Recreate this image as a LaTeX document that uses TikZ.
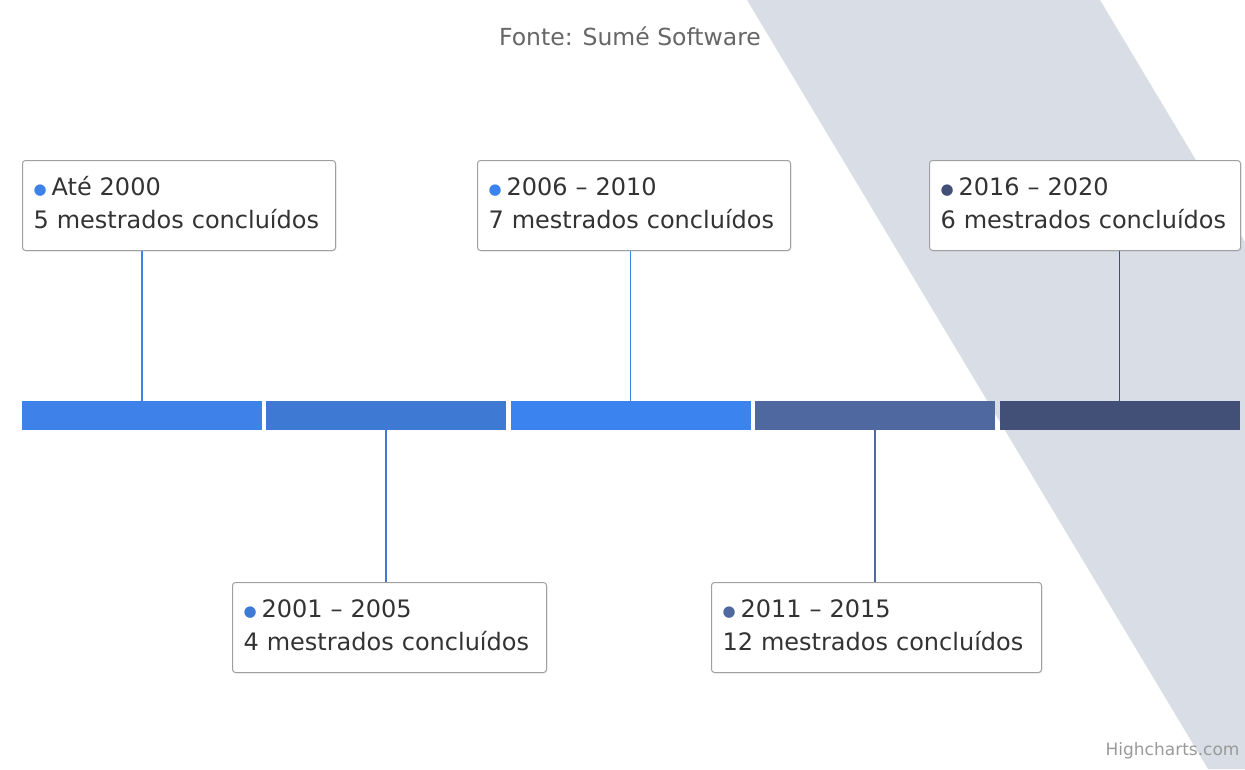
\documentclass[tikz,border=0pt]{standalone}
\usepackage{fontspec}
\setmainfont{DejaVu Sans}
\usetikzlibrary{shadows}
\definecolor{band}{HTML}{D9DEE6}
\definecolor{txt}{HTML}{333333}
\definecolor{boxgray}{HTML}{A0A0A0}
\definecolor{c1}{HTML}{3D81E9}
\definecolor{c2}{HTML}{3E7AD4}
\definecolor{c3}{HTML}{3B83EE}
\definecolor{c4}{HTML}{4F69A0}
\definecolor{c5}{HTML}{425077}
\newcommand\period[3]{\textcolor{#1}{\raisebox{1.5pt}{\fontsize{15}{15}\selectfont ●}}\hspace{5pt}#2\rule{0pt}{24pt}\\#3\rule[-11pt]{0pt}{11pt}}
\begin{document}
\begin{tikzpicture}[x=1pt,y=-1pt,
    seg/.style={inner sep=0pt, minimum width=240pt, minimum height=29pt},
    tip/.style={draw=boxgray, fill=white, line width=1pt, rounded corners=3pt,
      anchor=north west, align=left, inner xsep=11pt, inner ysep=11pt,
      text=txt, font=\fontsize{24}{33}\selectfont,
      drop shadow={shadow xshift=1pt, shadow yshift=-1pt, opacity=0.12}},
    link/.style={line width=1.6pt}]
  \useasboundingbox (0,0) rectangle (1245,769);
  \fill[band] (747,0) -- (1100,0) -- (1245,242) -- (1245,769) -- (1208,769) -- cycle;
  \node[text=black!60, font=\fontsize{23.5}{28}\selectfont, anchor=base] (title) at (630,45) {Fonte: Sumé Software};
  \node[seg, fill=c1] (s1) at (142,415.5) {};
  \node[seg, fill=c2] (s2) at (386,415.5) {};
  \node[seg, fill=c3] (s3) at (630.5,415.5) {};
  \node[seg, fill=c4] (s4) at (875,415.5) {};
  \node[seg, fill=c5] (s5) at (1119.5,415.5) {};
  \node[tip, text width=291pt] (b1) at (22,160) {\period{c1}{Até 2000}{5 mestrados concluídos}};
  \node[tip, text width=292pt] (b2) at (232,582) {\period{c2}{2001 – 2005}{4 mestrados concluídos}};
  \node[tip, text width=291pt] (b3) at (477,160) {\period{c3}{2006 – 2010}{7 mestrados concluídos}};
  \node[tip, text width=308pt] (b4) at (711,582) {\period{c4}{2011 – 2015}{12 mestrados concluídos}};
  \node[tip, text width=289pt] (b5) at (929,160) {\period{c5}{2016 – 2020}{6 mestrados concluídos}};
  \draw[link, c1] (s1.north) -- (s1.north |- b1.south);
  \draw[link, c2] (s2.south) -- (s2.south |- b2.north);
  \draw[link, c3] (s3.north) -- (s3.north |- b3.south);
  \draw[link, c4] (s4.south) -- (s4.south |- b4.north);
  \draw[link, c5] (s5.north) -- (s5.north |- b5.south);
  \node[text=black!40, font=\fontsize{17}{20}\selectfont, anchor=base east] (credit) at (1243,755) {Highcharts.com};
\end{tikzpicture}
\end{document}
